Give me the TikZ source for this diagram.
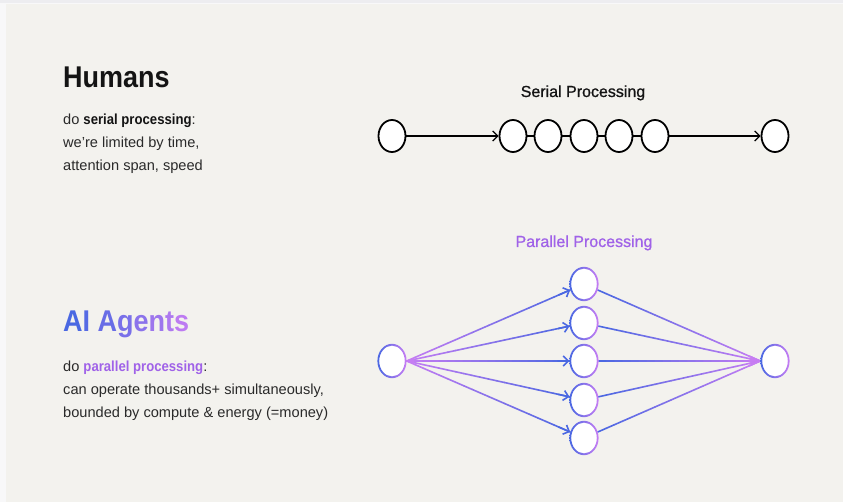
\documentclass[tikz,border=0pt]{standalone}
\usepackage{fontspec}
\setmainfont{Liberation Sans}[BoldFeatures={FakeStretch=0.9}]
\newfontfamily\mediumface{Liberation Sans}[FakeBold=0.9]
\usetikzlibrary{arrows.meta,calc,shapes.geometric}

\definecolor{bgpaper}{HTML}{F3F2EE}
\definecolor{outerbg}{HTML}{F8F8F9}
\definecolor{topband}{HTML}{EDEDF0}
\definecolor{ink}{HTML}{141414}
\definecolor{bodyink}{HTML}{2A2A2A}
\definecolor{cblue}{HTML}{4A68E2}
\definecolor{cpink}{HTML}{C77DF3}
\definecolor{cviolet}{HTML}{A062E8}

\tikzset{
  txt/.style={anchor=base west, inner sep=0pt, text=bodyink, font=\fontsize{14.6}{17}\selectfont},
  serialnode/.style={ellipse, draw=black, line width=1.8pt, fill=white,
    minimum width=27pt, minimum height=32pt, inner sep=0pt},
  parnode/.style={ellipse, fill=white, draw=none,
    minimum width=29pt, minimum height=34pt, inner sep=0pt},
  serialedge/.style={line width=1.3pt, black},
  barb/.style={-{Straight Barb[length=5pt,width=10pt]}},
  edgeline/.style={line width=1.6pt, line cap=round},
}

% colour-graded connector: from, to, colour at start, colour at end, tip style
\newcommand\gradedge[5]{%
  \path (#1) -- (#2) coordinate[pos=0] (gA) coordinate[pos=1] (gB);
  \foreach \k in {0,...,19}{%
    \pgfmathsetmacro\ta{\k/20}%
    \pgfmathsetmacro\tb{min(1,(\k+1)/20)}%
    \pgfmathtruncatemacro\mix{98-5*\k}%
    \draw[edgeline, color=#3!\mix!#4] ($(gA)!\ta!(gB)$) -- ($(gA)!\tb!(gB)$);
  }
  \draw[edgeline, color=#4, #5] ($(gA)!0.93!(gB)$) -- (gB);
}

% gradient ring around a node
\newcommand\ring[1]{%
  \shade[left color=cblue, right color=cpink, even odd rule]
    (#1.center) ellipse [x radius=14.6pt, y radius=17.2pt]
    (#1.center) ellipse [x radius=12.8pt, y radius=15.4pt];
}

\begin{document}
\begin{tikzpicture}[x=1pt, y=-1pt]
  % page and panel
  \useasboundingbox (0,0) rectangle (843,502);
  \fill[outerbg] (0,0) rectangle (843,502);
  \fill[topband] (0,0) rectangle (843,3.5);
  \fill[bgpaper] (6,4) rectangle (843,502);

  % ---------- left column texts ----------
  \node[txt, text=ink, font=\fontsize{30}{34}\selectfont\bfseries] (hum) at (63,88) {Humans};
  \node[txt] (h1) at (63,125) {do \textbf{\color{ink}serial processing}:};
  \node[txt] (h2) at (63,148) {we're limited by time,};
  \node[txt] (h3) at (63,171) {attention span, speed};

  \node[txt, font=\fontsize{30}{34}\selectfont\bfseries] (ai) at (63,332)
    {\textcolor{cblue!100!cpink}{A}\textcolor{cblue!90!cpink}{I} \textcolor{cblue!76!cpink}{A}\textcolor{cblue!62!cpink}{g}\textcolor{cblue!48!cpink}{e}\textcolor{cblue!34!cpink}{n}\textcolor{cblue!20!cpink}{t}\textcolor{cblue!8!cpink}{s}};
  \node[txt] (a1) at (63,371) {do \textbf{\color{cviolet}parallel processing}:};
  \node[txt] (a2) at (63,394) {can operate thousands+ simultaneously,};
  \node[txt] (a3) at (63,417) {bounded by compute \& energy (=money)};

  % ---------- serial processing ----------
  \node[anchor=base, inner sep=0pt, text=ink, font=\mediumface\fontsize{16}{18}\selectfont] (stitle) at (583,97) {Serial Processing};
  \node[serialnode] (s0) at (392,136) {};
  \node[serialnode] (c1) at (513,136) {};
  \node[serialnode] (c2) at (548,136) {};
  \node[serialnode] (c3) at (584,136) {};
  \node[serialnode] (c4) at (619,136) {};
  \node[serialnode] (c5) at (655,136) {};
  \node[serialnode] (s6) at (775,136) {};
  \draw[serialedge, barb] (s0) -- (c1);
  \draw[serialedge] (c1) -- (c2);
  \draw[serialedge] (c2) -- (c3);
  \draw[serialedge] (c3) -- (c4);
  \draw[serialedge] (c4) -- (c5);
  \draw[serialedge, barb] (c5) -- (s6);

  % ---------- parallel processing ----------
  \node[anchor=base, inner sep=0pt, text=cviolet, font=\mediumface\fontsize{16}{18}\selectfont] (ptitle) at (584,247) {Parallel Processing};
  \node[parnode] (p0) at (392,361) {};
  \node[parnode] (m1) at (584,284) {};
  \node[parnode] (m2) at (584,323) {};
  \node[parnode] (m3) at (584,361) {};
  \node[parnode] (m4) at (584,400) {};
  \node[parnode] (m5) at (584,438) {};
  \node[parnode] (p6) at (775,361) {};

  \foreach \m in {m1,m2,m3,m4,m5}{
    \gradedge{p0.east}{\m}{cpink}{cblue}{barb}
    \gradedge{\m}{p6.west}{cblue}{cpink}{}
  }

  \foreach \n in {p0,m1,m2,m3,m4,m5,p6}{ \ring{\n} }
\end{tikzpicture}
\end{document}
